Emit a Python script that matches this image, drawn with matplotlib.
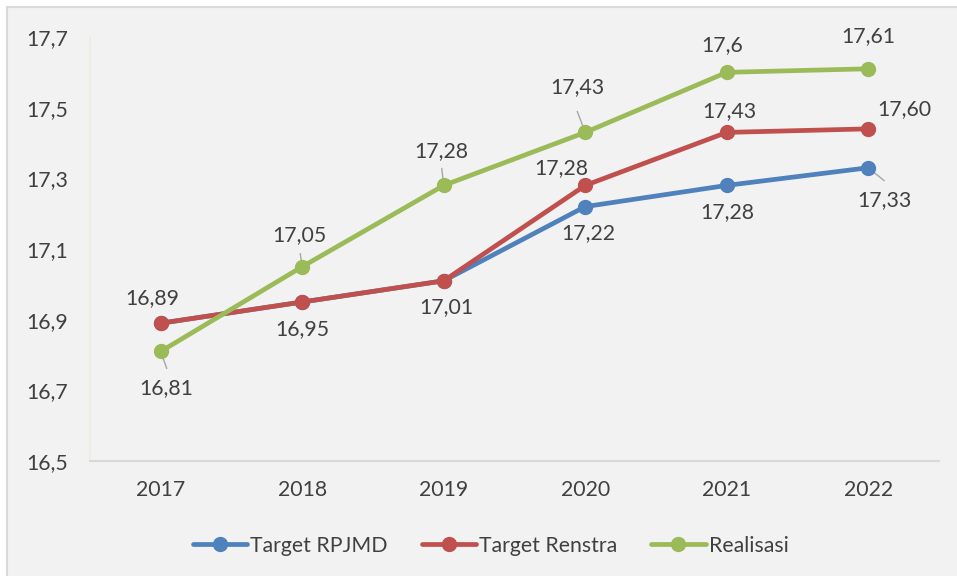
import matplotlib
matplotlib.use("Agg")
import matplotlib.pyplot as plt
from matplotlib.patches import Rectangle

years = ["2017", "2018", "2019", "2020", "2021", "2022"]
rpjmd = [16.89, 16.95, 17.01, 17.22, 17.28, 17.33]
renstra = [16.89, 16.95, 17.01, 17.28, 17.43, 17.44]
realisasi = [16.81, 17.05, 17.28, 17.43, 17.60, 17.61]
yticks = [16.5, 16.7, 16.9, 17.1, 17.3, 17.5, 17.7]
ytick_labels = ["16,5", "16,7", "16,9", "17,1", "17,3", "17,5", "17,7"]

# data label texts (None = no label shown)
rpjmd_labels = [None, "16,95", "17,01", "17,22", "17,28", "17,33"]
renstra_labels = ["16,89", None, None, "17,28", "17,43", "17,60"]
realisasi_labels = ["16,81", "17,05", "17,28", "17,43", "17,6", "17,61"]

# label offsets in pixels (dx, dy up), and optional leader end offsets
rpjmd_off = [None, (0, -27), (3, -26), (3, -26), (1, -27), (16, -32)]
renstra_off = [(-8, 25), None, None, (-24, 17), (3, 21), (36, 20)]
realisasi_off = [(5, -37), (-3, 32), (-2, 34), (-8, 45), (-5, 27), (0, 33)]
rpjmd_lead = [None, None, None, None, None, (16, -13)]
renstra_lead = [None] * 6
realisasi_lead = [(6, -17), (-2, 13), (-2, 17), (-8, 21), None, None]

plt.rcParams['font.family'] = ['Lato', 'DejaVu Sans']
W, H = 957, 576
fig = plt.figure(figsize=(W / 100, H / 100), dpi=100, facecolor="white")
fig.patches.append(Rectangle((7 / W, -0.01), 1.0, (H - 7) / H + 0.01, transform=fig.transFigure,
                             facecolor="#F2F2F2", edgecolor="#D9D9D9", linewidth=1.5, zorder=-10))

ax = fig.add_axes([90 / W, (H - 461) / H, 849 / W, 424 / H])
ax.set_facecolor("none")
x = list(range(len(years)))

colors = {"rpjmd": "#4F81BD", "renstra": "#C0504D", "realisasi": "#9BBB59"}
series = [
    ("Target RPJMD", rpjmd, colors["rpjmd"], rpjmd_labels, rpjmd_off, rpjmd_lead),
    ("Target Renstra", renstra, colors["renstra"], renstra_labels, renstra_off, renstra_lead),
    ("Realisasi", realisasi, colors["realisasi"], realisasi_labels, realisasi_off, realisasi_lead),
]
px2pt = 0.72
txtcol = "#404040"
fs = 15.3
for name, vals, col, labs, offs, leads in series:
    ax.plot(x, vals, color=col, linewidth=3.4, marker="o", markersize=10, label=name,
            solid_capstyle="round", zorder=3)
    for i, (v, lab, off, ld) in enumerate(zip(vals, labs, offs, leads)):
        if lab is None:
            continue
        if ld is not None:
            ax.annotate("", xy=(i, v), xytext=(ld[0] * px2pt, ld[1] * px2pt),
                        textcoords="offset points",
                        arrowprops=dict(arrowstyle="-", color="#A6A6A6", lw=1.0,
                                        shrinkA=0, shrinkB=0), zorder=2)
        ax.annotate(lab, xy=(i, v), xytext=(off[0] * px2pt, off[1] * px2pt),
                    textcoords="offset points", ha="center", va="center",
                    fontsize=fs, color=txtcol, zorder=4)

ax.set_xlim(-0.5, 5.5)
ax.set_ylim(16.5, 17.7)
ax.set_xticks(x)
ax.set_xticklabels(years)
ax.set_yticks(yticks)
ax.set_yticklabels(ytick_labels)
ax.tick_params(axis="both", length=0, labelsize=fs, labelcolor=txtcol)
ax.tick_params(axis="y", pad=16)
ax.tick_params(axis="x", pad=14)
for s in ["top", "right"]:
    ax.spines[s].set_visible(False)
ax.spines["left"].set_color("#EEEDE0")
ax.spines["left"].set_linewidth(1.2)
ax.spines["bottom"].set_color("#D9D9D9")
ax.spines["bottom"].set_linewidth(1.5)

leg = ax.legend(loc="center", bbox_to_anchor=(0.472, -0.2), ncol=3, frameon=False,
                fontsize=fs, handlelength=2.55, handletextpad=0.15, columnspacing=1.6,
                labelcolor=txtcol)

fig.savefig("out.png", dpi=100, facecolor=fig.get_facecolor())
